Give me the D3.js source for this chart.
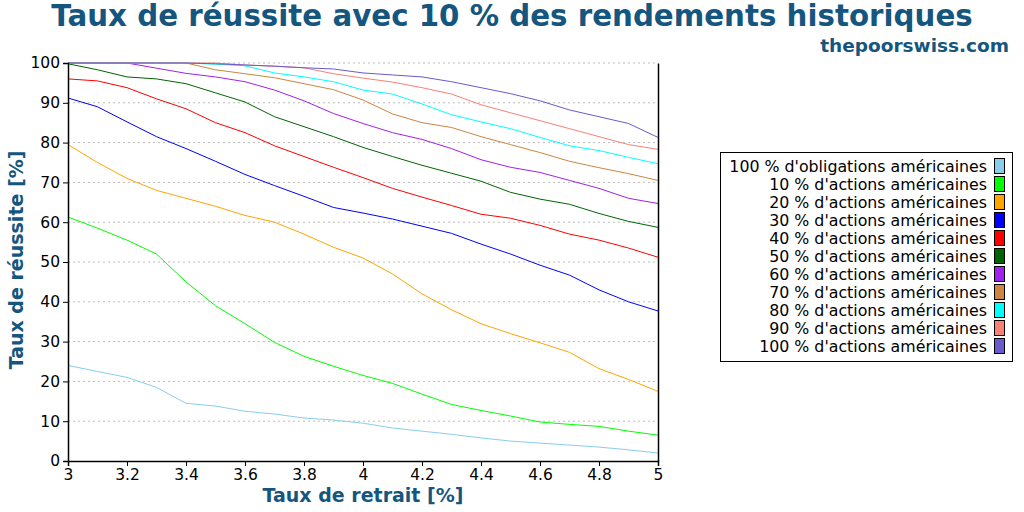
<!DOCTYPE html>
<html><head><meta charset="utf-8">
<script src="https://cdn.jsdelivr.net/npm/d3@7"></script>
<style>body{margin:0;background:#fff}text{font-family:"DejaVu Sans",sans-serif}</style>
</head><body>
<svg id="chart" width="1024" height="512"></svg>
<script>
var rates = [3,3.1,3.2,3.3,3.4,3.5,3.6,3.7,3.8,3.9,4,4.1,4.2,4.3,4.4,4.5,4.6,4.7,4.8,4.9,5];
var names = ["100 % d'obligations américaines","10 % d'actions américaines","20 % d'actions américaines","30 % d'actions américaines","40 % d'actions américaines","50 % d'actions américaines","60 % d'actions américaines","70 % d'actions américaines","80 % d'actions américaines","90 % d'actions américaines","100 % d'actions américaines"];
var colors = ["#87ceeb","#00ff00","#ffa500","#0000ff","#ff0000","#006400","#a020f0","#cd853f","#00ffff","#fa8072","#6a5acd"];
var bonds = [24,22.5,21,18.5,14.5,13.8,12.5,11.8,10.8,10.3,9.5,8.3,7.5,6.7,5.8,5,4.5,4,3.5,2.8,2];
var s10 = [61.3,58.5,55.5,52,45,39,34.5,29.8,26.3,23.8,21.5,19.5,16.8,14.2,12.7,11.3,9.8,9.2,8.7,7.5,6.5];
var s20 = [79.5,75,71,68,66,64,61.7,60,57,53.7,51,47,42,38,34.5,32,29.7,27.3,23.2,20.5,17.5];
var s30 = [91.2,89,85.2,81.5,78.5,75.3,72,69.2,66.5,63.7,62.3,60.8,59,57.2,54.5,52,49.2,46.7,43,40,37.7];
var s40 = [96,95.5,93.8,91,88.5,85,82.5,79.2,76.5,73.8,71.2,68.5,66.3,64.2,62,61,59.2,57,55.5,53.5,51.2];
var s50 = [99.8,98.3,96.5,96,94.8,92.5,90.2,86.5,84,81.5,78.8,76.5,74.3,72.3,70.3,67.5,65.8,64.5,62.2,60.2,58.7];
var s60 = [100,100,100,98.7,97.4,96.5,95.3,93.2,90.5,87.3,84.8,82.5,80.8,78.5,75.7,73.8,72.5,70.5,68.5,66,64.7];
var s70 = [100,100,100,100,100,98.3,97.3,96.3,94.8,93.3,90.7,87.2,85,83.8,81.5,79.5,77.5,75.3,73.7,72.2,70.5];
var s80 = [100,100,100,100,100,99.7,99.3,97.5,96.5,95.3,93.2,92.2,89.7,87,85.2,83.5,81.3,79.2,78,76.3,74.7];
var s90 = [100,100,100,100,100,100,99.5,99.2,98.8,97.3,96.2,95.2,93.8,92.2,89.5,87.5,85.5,83.5,81.5,79.5,78.3];
var s100 = [100,100,100,100,100,99.8,99.5,99.2,98.8,98.5,97.5,97,96.5,95.3,93.8,92.3,90.5,88.2,86.5,84.8,81.3];
var series = [bonds,s10,s20,s30,s40,s50,s60,s70,s80,s90,s100];
var xTicks = [3,3.2,3.4,3.6,3.8,4,4.2,4.4,4.6,4.8,5];
var yTicks = [0,10,20,30,40,50,60,70,80,90,100];

var svg = d3.select("#chart");
var blue = "#15567f";
var x = d3.scaleLinear().domain([3,5]).range([68,658]);
var y = d3.scaleLinear().domain([0,100]).range([461,63]);

// grid
svg.selectAll("line.grid").data(yTicks.slice(1)).enter().append("line")
    .attr("x1",68).attr("x2",658).attr("y1",d => y(d)).attr("y2",d => y(d))
    .attr("stroke","#bbb").attr("stroke-dasharray","2,3");

var line = d3.line().x((d,i) => x(rates[i])).y(d => y(d));
svg.selectAll("path.s").data(series).enter().append("path")
    .attr("fill","none").attr("stroke",(d,i) => colors[i]).attr("stroke-width",1)
    .attr("d",line);

var xa = svg.append("g").attr("transform","translate(0,461)")
    .call(d3.axisBottom(x).tickValues(xTicks).tickSize(5).tickFormat(d => d3.format("")(+d.toFixed(1))));
var ya = svg.append("g").attr("transform","translate(68,0)")
    .call(d3.axisLeft(y).tickValues(yTicks).tickSize(5));
svg.append("g").attr("transform","translate(658,0)")
    .call(d3.axisRight(y).tickValues(yTicks).tickSize(0).tickFormat(""));
[xa,ya].forEach(g => g.selectAll("text").attr("font-size",15.5).attr("fill","#000"));
svg.selectAll(".domain").attr("stroke","#000").attr("stroke-width",1.5);

svg.append("text").attr("x",512).attr("y",26).attr("text-anchor","middle")
    .attr("font-size",29.3).attr("font-weight","bold").attr("fill",blue)
    .text("Taux de réussite avec 10 % des rendements historiques");
svg.append("text").attr("x",1009).attr("y",52).attr("text-anchor","end")
    .attr("font-size",18.5).attr("font-weight","bold").attr("fill",blue).text("thepoorswiss.com");
svg.append("text").attr("x",363).attr("y",502).attr("text-anchor","middle")
    .attr("font-size",19).attr("font-weight","bold").attr("fill",blue).text("Taux de retrait [%]");
svg.append("text").attr("transform","translate(23,260) rotate(-90)").attr("text-anchor","middle")
    .attr("font-size",19).attr("font-weight","bold").attr("fill",blue).text("Taux de réussite [%]");

var lg = svg.append("g");
lg.append("rect").attr("x",720.5).attr("y",152.5).attr("width",292).attr("height",209)
    .attr("fill","#fff").attr("stroke","#000");
var rows = lg.selectAll("g.r").data(names).enter().append("g")
    .attr("transform",(d,i) => "translate(0," + (166 + i*18) + ")");
rows.append("text").attr("x",987).attr("y",5.5).attr("text-anchor","end").attr("font-size",15.8).text(d => d);
rows.append("rect").attr("x",994.5).attr("y",-7.5).attr("width",10).attr("height",15)
    .attr("fill",(d,i) => colors[i]).attr("stroke","#000");
</script>
</body></html>
